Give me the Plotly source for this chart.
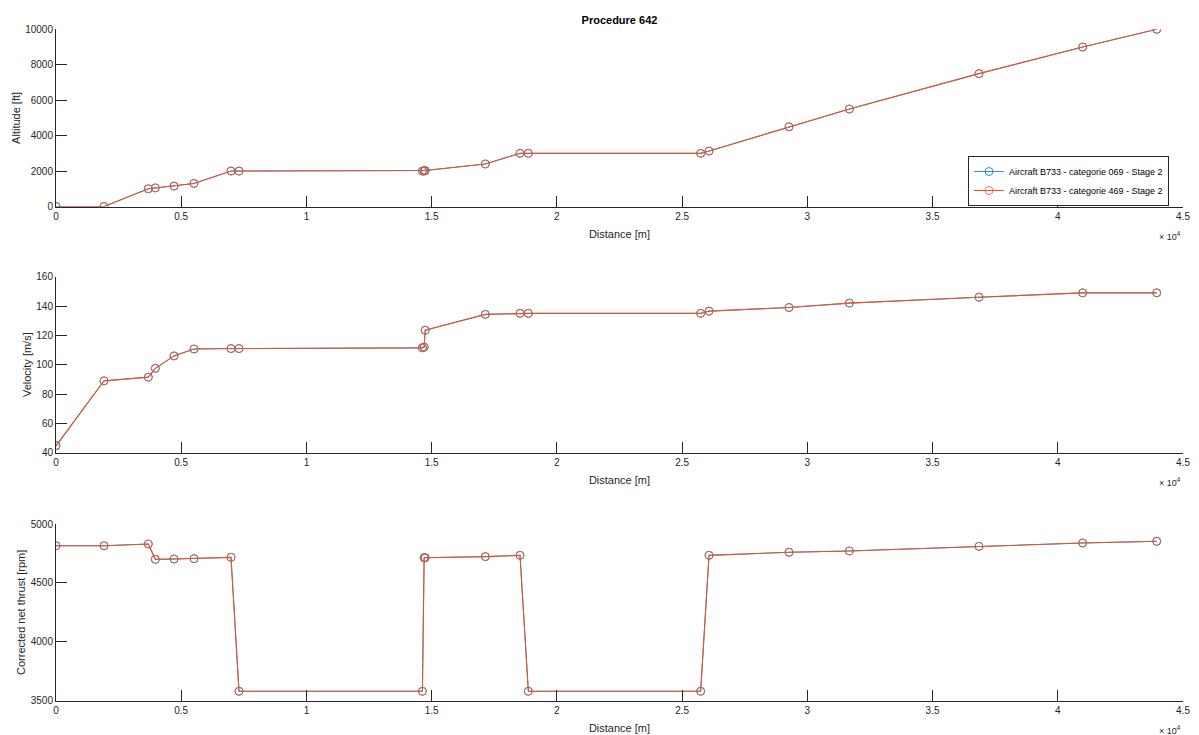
import plotly.graph_objects as go

# ---- data ----
distance = [0, 1917, 3687, 3966, 4712, 5510, 6988, 7307, 14630, 14700, 14740,
            17143, 18528, 18860, 25740, 26075, 29268, 31678, 36855, 40994, 43950]

alt_069 = [0, 0, 1000, 1050, 1150, 1300, 2000, 2000, 2000, 2000, 2030,
           2400, 3000, 3000, 3000, 3130, 4500, 5500, 7500, 9000, 10000]
alt_469 = [0, 0, 1000, 1050, 1150, 1300, 2000, 2000, 2000, 2000, 2030,
           2400, 3000, 3000, 3000, 3130, 4500, 5500, 7500, 9000, 10000]

vel_069 = [45, 89, 91.5, 97.5, 106, 110.7, 111, 111, 111.5, 112, 123.5,
           134.3, 135, 135, 135, 136.5, 139, 142, 146, 149, 149]
vel_469 = [44.5, 89, 91.5, 97.5, 106, 110.7, 111, 111, 111.5, 112, 123.5,
           134.3, 135, 135, 135, 136.5, 139, 142, 146, 149, 149]

thr_069 = [4815, 4815, 4830, 4700, 4703, 4706, 4717, 3580, 3580, 4714, 4714,
           4723, 4734, 3580, 3580, 4734, 4760, 4771, 4810, 4839, 4853]
thr_469 = [4815, 4815, 4830, 4700, 4703, 4706, 4717, 3580, 3580, 4714, 4714,
           4723, 4734, 3580, 3580, 4734, 4760, 4771, 4810, 4839, 4853]

series_names = ["Aircraft B733 - categorie 069 - Stage 2",
                "Aircraft B733 - categorie 469 - Stage 2"]
x_tickvals = [0, 5000, 10000, 15000, 20000, 25000, 30000, 35000, 40000, 45000]
x_ticktext = ["0", "0.5", "1", "1.5", "2", "2.5", "3", "3.5", "4", "4.5"]

alt_ticks = [0, 2000, 4000, 6000, 8000, 10000]
vel_ticks = [40, 60, 80, 100, 120, 140, 160]
thr_ticks = [3500, 4000, 4500, 5000]

colors = ["#0072BD", "#E0552F"]
line_widths = [0.8, 1.1]
AX = "#262626"
FONT = "Liberation Sans, Arial, sans-serif"

W, H = 1199, 735
xdom = [56 / W, 1183 / W]
ydoms = [
    [1 - 206.5 / H, 1 - 29.3 / H],
    [1 - 452.7 / H, 1 - 276.7 / H],
    [1 - 700.7 / H, 1 - 524 / H],
]

fig = go.Figure()

panels = [
    (alt_069, alt_469, "Altitude [ft]", [0, 10000], alt_ticks),
    (vel_069, vel_469, "Velocity [m/s]", [40, 160], vel_ticks),
    (thr_069, thr_469, "Corrected net thrust [rpm]", [3500, 5000], thr_ticks),
]

for i, (y1, y2, ytitle, yr, yt) in enumerate(panels):
    n = "" if i == 0 else str(i + 1)
    for k, ys in enumerate([y1, y2]):
        fig.add_trace(go.Scatter(
            x=distance, y=ys, mode="lines+markers",
            name=series_names[k],
            line=dict(color=colors[k], width=line_widths[k]),
            marker=dict(symbol="circle-open", size=8, color=colors[k], line=dict(width=0.8)),
            xaxis="x" + n, yaxis="y" + n,
            showlegend=(i == 0),
        ))
    fig.layout["xaxis" + n] = dict(
        domain=xdom, anchor="y" + n, range=[0, 45000], automargin=False,
        tickvals=x_tickvals, ticktext=x_ticktext,
        ticks="inside", ticklen=11, tickcolor=AX, tickwidth=1,
        showline=True, linecolor=AX, linewidth=1,
        showgrid=False, zeroline=False,
        tickfont=dict(family=FONT, size=10, color=AX),
        title=dict(text="Distance [m]", font=dict(family=FONT, size=11, color=AX), standoff=9),
    )
    fig.layout["yaxis" + n] = dict(
        domain=ydoms[i], anchor="x" + n, range=yr, automargin=False,
        tickvals=yt, ticktext=[str(v) for v in yt],
        ticks="inside", ticklen=11, tickcolor=AX, tickwidth=1,
        showline=True, linecolor=AX, linewidth=1,
        showgrid=False, zeroline=False,
        tickfont=dict(family=FONT, size=10, color=AX),
        title=dict(text=ytitle, font=dict(family=FONT, size=11, color=AX), standoff=2),
    )
    fig.add_annotation(
        text="\u00d7 10<sup>4</sup>", xref="paper", yref="paper",
        x=1183 / W, y=ydoms[i][0], xanchor="right", yanchor="top",
        yshift=-21, showarrow=False,
        font=dict(family=FONT, size=9, color=AX),
    )

fig.update_layout(
    width=W, height=H,
    margin=dict(l=0, r=0, t=0, b=0, autoexpand=False),
    paper_bgcolor="white", plot_bgcolor="white",
    title=dict(text="<b>Procedure 642</b>", x=619.5 / W, xanchor="center",
               y=1 - 20 / H, yanchor="middle",
               font=dict(family=FONT, size=11, color="black")),
    legend=dict(x=968 / W, y=1 - 156 / H, xanchor="left", yanchor="top",
                bgcolor="white", bordercolor=AX, borderwidth=1,
                font=dict(family=FONT, size=9, color="black"),
                tracegroupgap=0, itemwidth=30),
    showlegend=True,
)

fig.write_html("out.html", config={"displayModeBar": False},
               post_script="document.body.style.margin='0';")
